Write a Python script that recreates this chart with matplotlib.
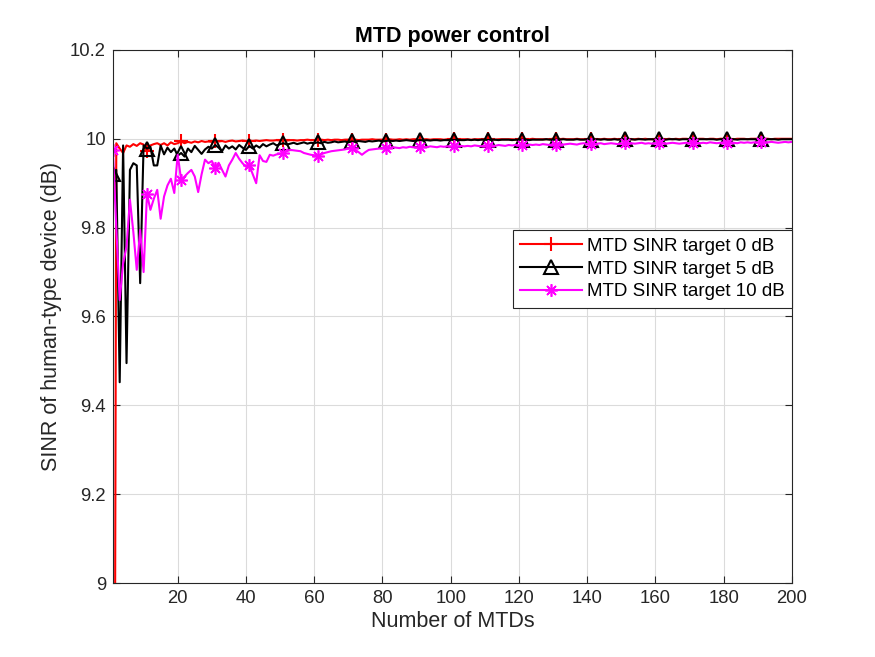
import numpy as np
import matplotlib
matplotlib.use("Agg")
import matplotlib.pyplot as plt
from matplotlib.ticker import FormatStrFormatter

plt.rcParams['font.family'] = ['Liberation Sans', 'DejaVu Sans']

# number of MTDs, 1..200
n_mtd = np.arange(1, 201)

# SINR of human-type device (dB), MTD SINR target 0 dB
sinr_0db = [
    7.000, 9.990, 9.978, 9.968, 9.985, 9.982, 9.988, 9.984, 9.990, 9.987,
    9.972, 9.985, 9.988, 9.990, 9.986, 9.990, 9.985, 9.992, 9.988, 9.990,
    9.994, 9.990, 9.993, 9.991, 9.994, 9.992, 9.995, 9.993, 9.994, 9.993,
    9.995, 9.994, 9.995, 9.993, 9.995, 9.996, 9.994, 9.995, 9.996, 9.995,
    9.996, 9.995, 9.996, 9.995, 9.996, 9.997, 9.996, 9.996, 9.997, 9.996,
    9.997, 9.996, 9.997, 9.997, 9.996, 9.997, 9.997, 9.998, 9.997, 9.997,
    9.997, 9.998, 9.997, 9.998, 9.997, 9.998, 9.998, 9.997, 9.998, 9.998,
    9.998, 9.998, 9.997, 9.998, 9.998, 9.998, 9.999, 9.998, 9.998, 9.998,
    9.998, 9.999, 9.998, 9.998, 9.999, 9.998, 9.999, 9.998, 9.999, 9.999,
    9.998, 9.999, 9.999, 9.998, 9.999, 9.999, 9.999, 9.998, 9.999, 9.999,
    9.999, 9.998, 9.999, 9.999, 9.999, 9.998, 9.999, 9.999, 9.999, 9.999,
    9.999, 9.999, 9.998, 9.999, 9.999, 9.999, 9.999, 9.999, 9.998, 9.999,
    9.999, 9.999, 9.999, 10.000, 9.999, 9.999, 9.999, 9.999, 9.999, 10.000,
    9.999, 9.999, 10.000, 9.999, 9.999, 9.999, 10.000, 9.999, 9.999, 9.999,
    10.000, 9.999, 9.999, 9.999, 10.000, 9.999, 9.999, 10.000, 9.999, 9.999,
    9.999, 10.000, 9.999, 9.999, 10.000, 9.999, 10.000, 9.999, 9.999, 10.000,
    9.999, 10.000, 9.999, 10.000, 9.999, 10.000, 9.999, 10.000, 10.000, 9.999,
    10.000, 9.999, 10.000, 10.000, 9.999, 10.000, 10.000, 9.999, 10.000, 10.000,
    10.000, 10.000, 9.999, 10.000, 10.000, 10.000, 9.999, 10.000, 10.000, 10.000,
    10.000, 10.000, 10.000, 9.999, 10.000, 10.000, 10.000, 10.000, 10.000, 10.000,
]

# MTD SINR target 5 dB
sinr_5db = [
    9.920, 9.930, 9.452, 9.985, 9.495, 9.930, 9.945, 9.940, 9.675, 9.985,
    9.978, 9.982, 9.940, 9.940, 9.985, 9.965, 9.980, 9.970, 9.978, 9.962,
    9.968, 9.960, 9.978, 9.970, 9.984, 9.975, 9.966, 9.976, 9.982, 9.978,
    9.986, 9.980, 9.972, 9.985, 9.978, 9.983, 9.976, 9.986, 9.980, 9.975,
    9.984, 9.978, 9.985, 9.980, 9.988, 9.983, 9.987, 9.990, 9.985, 9.988,
    9.990, 9.987, 9.989, 9.991, 9.988, 9.990, 9.992, 9.989, 9.991, 9.990,
    9.992, 9.990, 9.993, 9.991, 9.992, 9.994, 9.992, 9.993, 9.994, 9.992,
    9.994, 9.993, 9.995, 9.994, 9.993, 9.995, 9.994, 9.995, 9.996, 9.994,
    9.995, 9.996, 9.995, 9.996, 9.995, 9.996, 9.997, 9.996, 9.995, 9.996,
    9.997, 9.996, 9.997, 9.996, 9.997, 9.997, 9.996, 9.997, 9.997, 9.998,
    9.997, 9.998, 9.997, 9.997, 9.998, 9.997, 9.998, 9.997, 9.998, 9.998,
    9.997, 9.998, 9.998, 9.997, 9.998, 9.998, 9.998, 9.997, 9.998, 9.998,
    9.998, 9.998, 9.997, 9.998, 9.998, 9.998, 9.998, 9.999, 9.998, 9.998,
    9.998, 9.998, 9.999, 9.998, 9.998, 9.998, 9.999, 9.998, 9.998, 9.999,
    9.998, 9.998, 9.999, 9.998, 9.999, 9.998, 9.998, 9.999, 9.998, 9.999,
    9.999, 9.998, 9.999, 9.998, 9.999, 9.999, 9.998, 9.999, 9.999, 9.998,
    9.999, 9.999, 9.998, 9.999, 9.999, 9.999, 9.998, 9.999, 9.999, 9.999,
    9.999, 9.998, 9.999, 9.999, 9.999, 9.999, 9.999, 9.998, 9.999, 9.999,
    9.999, 9.999, 9.999, 9.998, 9.999, 9.999, 9.999, 9.999, 9.999, 9.999,
    9.999, 9.999, 9.999, 9.999, 9.999, 9.998, 9.999, 9.999, 9.999, 9.999,
]

# MTD SINR target 10 dB
sinr_10db = [
    9.975, 9.800, 9.637, 9.720, 9.757, 9.863, 9.790, 9.705, 9.795, 9.700,
    9.876, 9.840, 9.865, 9.885, 9.820, 9.870, 9.895, 9.910, 9.878, 9.964,
    9.908, 9.915, 9.923, 9.930, 9.915, 9.880, 9.920, 9.953, 9.945, 9.950,
    9.935, 9.946, 9.930, 9.915, 9.940, 9.953, 9.968, 9.955, 9.945, 9.937,
    9.940, 9.920, 9.900, 9.963, 9.950, 9.948, 9.964, 9.962, 9.965, 9.966,
    9.968, 9.972, 9.975, 9.974, 9.973, 9.972, 9.968, 9.966, 9.964, 9.963,
    9.962, 9.965, 9.968, 9.970, 9.972, 9.973, 9.974, 9.975, 9.976, 9.978,
    9.980, 9.975, 9.970, 9.964, 9.970, 9.975, 9.976, 9.977, 9.978, 9.979,
    9.980, 9.979, 9.981, 9.980, 9.979, 9.981, 9.980, 9.982, 9.981, 9.980,
    9.981, 9.982, 9.981, 9.983, 9.982, 9.981, 9.983, 9.982, 9.983, 9.982,
    9.983, 9.982, 9.984, 9.983, 9.984, 9.983, 9.985, 9.984, 9.983, 9.985,
    9.984, 9.985, 9.984, 9.986, 9.985, 9.984, 9.986, 9.985, 9.986, 9.985,
    9.986, 9.985, 9.987, 9.986, 9.987, 9.986, 9.988, 9.987, 9.986, 9.988,
    9.987, 9.988, 9.987, 9.988, 9.989, 9.988, 9.987, 9.989, 9.990, 9.988,
    9.989, 9.988, 9.989, 9.990, 9.988, 9.989, 9.990, 9.989, 9.988, 9.989,
    9.990, 9.989, 9.990, 9.989, 9.990, 9.991, 9.989, 9.990, 9.989, 9.990,
    9.990, 9.991, 9.989, 9.990, 9.991, 9.990, 9.989, 9.990, 9.991, 9.990,
    9.990, 9.991, 9.990, 9.991, 9.990, 9.992, 9.991, 9.990, 9.991, 9.992,
    9.991, 9.992, 9.991, 9.990, 9.992, 9.991, 9.992, 9.991, 9.992, 9.991,
    9.992, 9.991, 9.992, 9.993, 9.992, 9.991, 9.992, 9.993, 9.992, 9.993,
]

labels = ['MTD SINR target 0 dB', 'MTD SINR target 5 dB', 'MTD SINR target 10 dB']
x_ticks = [20, 40, 60, 80, 100, 120, 140, 160, 180, 200]
y_ticks = [9.0, 9.2, 9.4, 9.6, 9.8, 10.0, 10.2]

dark = (0.15, 0.15, 0.15)
fig = plt.figure(figsize=(8.75, 6.57), dpi=100)
ax = fig.add_axes([0.129, 0.1126, 0.776, 0.8114])

ax.plot(n_mtd, sinr_0db, '-', color='red', lw=1.5, marker='+', ms=10, mew=1.5,
        markevery=10, label=labels[0])
ax.plot(n_mtd, sinr_5db, '-', color='black', lw=1.5, marker='^', ms=10.5, mew=1.5,
        mfc='none', markevery=10, label=labels[1])
ax.plot(n_mtd, sinr_10db, '-', color='magenta', lw=1.5, marker=(8, 2, 0), ms=9,
        mew=1.2, markevery=10, label=labels[2])

ax.set_xlim(1, 200)
ax.set_ylim(9, 10.2)
ax.set_xticks(x_ticks)
ax.set_yticks(y_ticks)
ax.yaxis.set_major_formatter(FormatStrFormatter('%g'))
ax.grid(True, color=(0.86, 0.86, 0.86), lw=0.8)
ax.set_axisbelow(True)
ax.tick_params(direction='in', length=5, width=0.8, colors=dark, labelsize=13.3,
               top=True, right=True, labelcolor=dark, pad=5)
for s in ax.spines.values():
    s.set_color(dark)
    s.set_linewidth(0.8)

ax.set_title('MTD power control', fontsize=15.5, fontweight='bold', color='black')
ax.set_xlabel('Number of MTDs', fontsize=15.5, color=dark, labelpad=3)
ax.set_ylabel('SINR of human-type device (dB)', fontsize=15.5, color=dark, labelpad=6)

leg = ax.legend(loc='center right', bbox_to_anchor=(1.0, 0.589), fontsize=13.5,
                handlelength=3.3, fancybox=False, framealpha=1, borderpad=0.4,
                labelspacing=0.3, handletextpad=0.25, borderaxespad=0)
leg.get_frame().set_edgecolor(dark)
leg.get_frame().set_linewidth(0.8)

fig.savefig('out.png', dpi=100)
